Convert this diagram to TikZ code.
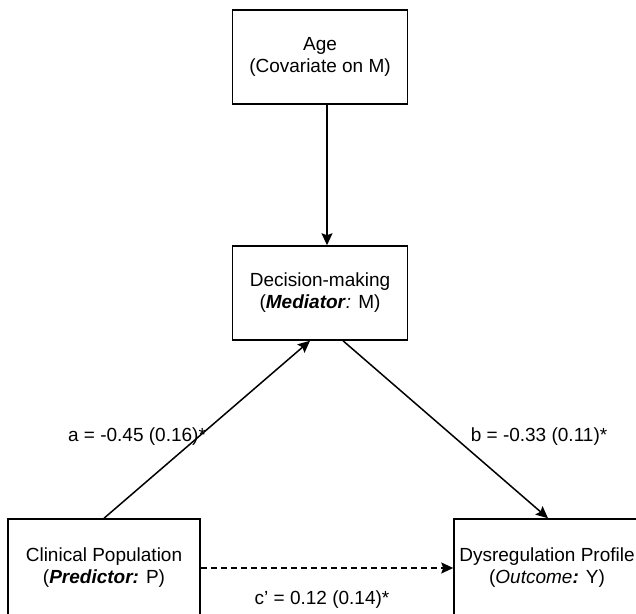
\documentclass[tikz,border=0pt]{standalone}
\usepackage{fontspec}
\setmainfont{Liberation Sans}
\usetikzlibrary{arrows.meta}
\begin{document}
\begin{tikzpicture}[x=1pt,y=-1pt,line width=1.5pt,
    >={Stealth[length=12pt,width=11pt,inset=2pt]}]
  \tikzstyle{every node}=[font=\fontsize{19}{22}\selectfont]
  \tikzstyle{var}=[draw,align=center,minimum height=94pt]
  \tikzstyle{coef}=[inner sep=0pt]
  \clip (0,0) rectangle (636,613);
  % variables
  \node[var,minimum width=175pt] (age) at (320,57) {Age\\(Covariate on M)};
  \node[var,minimum width=175pt] (med) at (320,293)
    {Decision-making\\(\textbf{\textit{Mediator}}\textit{:} M)};
  \node[var,minimum width=192pt,minimum height=98pt] (clin) at (104,568)
    {Clinical Population\\(\textbf{\textit{Predictor:}} P)};
  \node[var,minimum width=186pt,minimum height=98pt] (dys) at (547,568)
    {Dysregulation Profile\\(\textit{Outcome}\textbf{\textit{:}} Y)};
  % paths
  \draw[->] ([xshift=7pt]age.south) -- ([xshift=7pt]med.north);
  \draw[->] (clin.north) -- ([xshift=-10pt]med.south);
  \draw[->] ([xshift=23pt]med.south) -- ([xshift=1pt]dys.north);
  \draw[->,dashed,dash pattern=on 6pt off 4pt] (clin.east) -- (dys.west);
  % coefficients
  \node[coef] (a) at (137,437) {a = -0.45 (0.16)*};
  \node[coef] (b) at (539,437) {b = -0.33 (0.11)*};
  \node[coef] (c) at (322,600) {c' = 0.12 (0.14)*};
\end{tikzpicture}
\end{document}
